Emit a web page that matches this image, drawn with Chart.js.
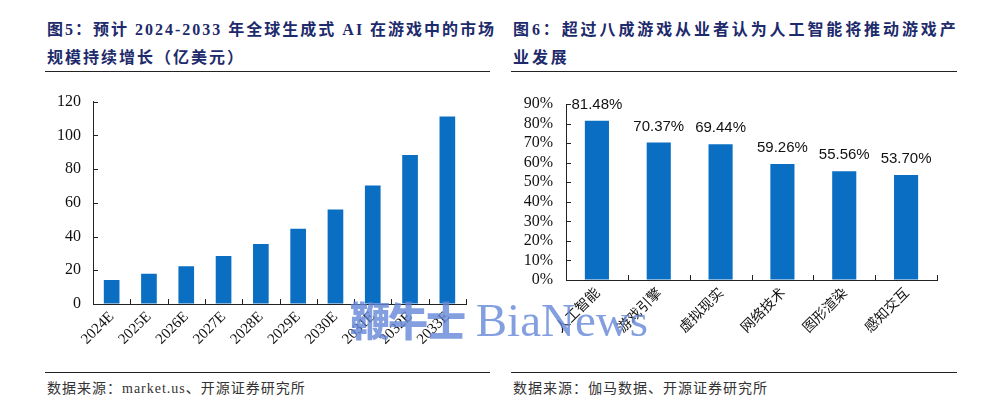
<!DOCTYPE html>
<html>
<head>
<meta charset="utf-8">
<script src="https://cdn.jsdelivr.net/npm/chart.js@4"></script>
<style>
  body { margin: 0; width: 1000px; height: 403px; background: #fff; position: relative; overflow: hidden; }
  .title { position: absolute; font-family: "Liberation Serif", "Noto Sans CJK SC", serif; font-weight: bold;
           font-size: 16px; line-height: 28px; color: #1d2a6b; letter-spacing: 2px; white-space: nowrap; }
  .rule { position: absolute; height: 0; border-top: 1.5px solid #222; }
  .source { position: absolute; font-family: "Liberation Serif", "Noto Sans CJK SC", serif; font-size: 14px;
            color: #333; letter-spacing: 1px; white-space: nowrap; }
  .wrap { position: absolute; }
  #mark { position: absolute; left: 350px; top: 291px; font-family: "Liberation Serif", "Noto Sans CJK SC", serif;
          font-size: 47px; color: rgba(100, 135, 215, 0.8); white-space: nowrap; line-height: 56px; }
  #mark b { font-family: "Noto Sans CJK SC"; font-weight: 900; font-size: 40px; letter-spacing: -2px; }
</style>
</head>
<body>
<div class="title" style="left:47px; top:16px;">图5：预计 2024-2033 年全球生成式 AI 在游戏中的市场<br>规模持续增长（亿美元）</div>
<div class="title" style="left:513px; top:16px; letter-spacing:2.9px;">图6：超过八成游戏从业者认为人工智能将推动游戏产<br>业发展</div>
<div class="rule" style="left:45px; top:71px; width:445px;"></div>
<div class="rule" style="left:511px; top:71px; width:446px;"></div>

<div class="wrap" style="left:40px; top:80px; width:450px; height:290px;"><canvas id="left-chart"></canvas></div>
<div class="wrap" style="left:505px; top:80px; width:450px; height:290px;"><canvas id="right-chart"></canvas></div>

<div class="rule" style="left:45px; top:372px; width:445px;"></div>
<div class="rule" style="left:511px; top:372px; width:446px;"></div>
<div class="source" style="left:47px; top:377px;">数据来源：market.us、开源证券研究所</div>
<div class="source" style="left:513px; top:377px;">数据来源：伽马数据、开源证券研究所</div>

<div id="mark"><b>鞭牛士</b> BiaNews</div>

<script>
const years = ['2024E', '2025E', '2026E', '2027E', '2028E', '2029E', '2030E', '2031E', '2032E', '2033E'];
const marketSize = [14.3, 17.9, 22.4, 28.4, 35.5, 44.6, 56.0, 70.3, 88.4, 111.2];

const fields = ['人工智能', '游戏引擎', '虚拟现实', '网络技术', '图形渲染', '感知交互'];
const sharePct = [81.48, 70.37, 69.44, 59.26, 55.56, 53.70];

const barColor = '#0a6fc2';
const serif = '"Liberation Serif", "Noto Sans CJK SC", serif';

// small tick marks pointing into the plot, like the Excel originals
const innerTicks = {
    id: 'innerTicks',
    afterDraw(chart) {
        const ctx = chart.ctx;
        const x = chart.scales.x, y = chart.scales.y;
        ctx.save();
        ctx.strokeStyle = '#222';
        ctx.lineWidth = 1;
        ctx.beginPath();
        y.ticks.forEach((t, i) => {
            const py = Math.round(y.getPixelForTick(i)) + 0.5;
            ctx.moveTo(y.right, py);
            ctx.lineTo(y.right + 5, py);
        });
        const n = x.ticks.length;
        for (let i = 1; i <= n; i++) {
            const px = Math.round(x.left + i * x.width / n) + 0.5;
            ctx.moveTo(px, x.top);
            ctx.lineTo(px, x.top - 5);
        }
        ctx.stroke();
        ctx.restore();
    }
};

const valueLabels = {
    id: 'valueLabels',
    afterDatasetsDraw(chart) {
        const ctx = chart.ctx;
        const meta = chart.getDatasetMeta(0);
        ctx.save();
        ctx.font = '15px "Liberation Sans", sans-serif';
        ctx.fillStyle = '#111';
        ctx.textAlign = 'center';
        ctx.textBaseline = 'middle';
        meta.data.forEach((bar, i) => {
            ctx.fillText(sharePct[i].toFixed(2) + '%', bar.x, bar.y - 16);
        });
        ctx.restore();
    }
};

function axisOpts(extra) {
    return Object.assign({
        grid: { display: true, drawOnChartArea: false, drawTicks: false },
        border: { color: '#222', width: 1 }
    }, extra);
}

new Chart(document.getElementById('left-chart'), {
    type: 'bar',
    data: {
        labels: years,
        datasets: [{ data: marketSize, backgroundColor: barColor, barPercentage: 0.42, categoryPercentage: 1 }]
    },
    options: {
        responsive: true,
        maintainAspectRatio: false,
        animation: false,
        layout: { padding: { top: 17, right: 24, left: 0, bottom: 0 } },
        plugins: { legend: { display: false }, tooltip: { enabled: false } },
        scales: {
            x: axisOpts({
                ticks: { color: '#111', font: { family: serif, size: 15 }, minRotation: 45, maxRotation: 45,
                         autoSkip: false, padding: 4 },
                afterFit(s) { s.height = 66; }
            }),
            y: axisOpts({
                min: 0, max: 120,
                ticks: { stepSize: 20, autoSkip: false, color: '#111', font: { family: serif, size: 16 }, padding: 12 },
                afterFit(s) { s.width = 53; }
            })
        }
    },
    plugins: [innerTicks]
});

new Chart(document.getElementById('right-chart'), {
    type: 'bar',
    data: {
        labels: fields,
        datasets: [{ data: sharePct, backgroundColor: barColor, barPercentage: 0.39, categoryPercentage: 1 }]
    },
    options: {
        responsive: true,
        maintainAspectRatio: false,
        animation: false,
        layout: { padding: { top: 24, right: 18, left: 0, bottom: 0 } },
        plugins: { legend: { display: false }, tooltip: { enabled: false } },
        scales: {
            x: axisOpts({
                ticks: { color: '#111', font: { family: '"Noto Sans CJK SC", sans-serif', size: 14 }, minRotation: 45, maxRotation: 45,
                         autoSkip: false, padding: 4 },
                afterFit(s) { s.height = 90; }
            }),
            y: axisOpts({
                min: 0, max: 90,
                ticks: { stepSize: 10, autoSkip: false, color: '#111', font: { family: serif, size: 16 }, padding: 13,
                         callback: v => v + '%' },
                afterFit(s) { s.width = 61; }
            })
        }
    },
    plugins: [innerTicks, valueLabels]
});
</script>
</body>
</html>
